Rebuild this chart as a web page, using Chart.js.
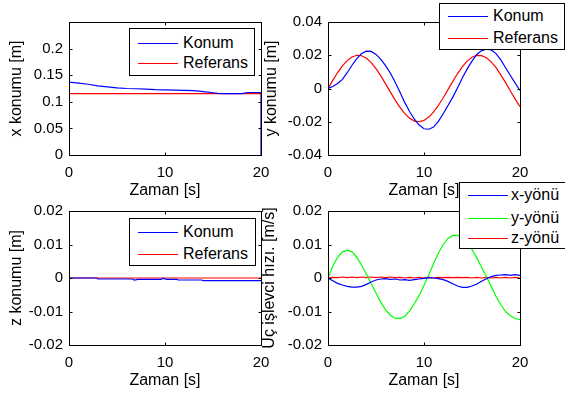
<!DOCTYPE html>
<html>
<head>
<meta charset="utf-8">
<script src="https://cdn.jsdelivr.net/npm/chart.js"></script>
<style>
body { margin: 0; background: #fff; width: 565px; height: 397px; position: relative; overflow: hidden; font-family: "Liberation Sans", Arial, sans-serif; }
canvas { position: absolute; }
.lejant { position: absolute; background: #fff; border: 1px solid #000; box-sizing: border-box; }
.lejant .cizgi { position: absolute; height: 1px; }
.lejant .yazi { position: absolute; font-size: 16px; line-height: 20px; color: #000; white-space: nowrap; }
</style>
</head>
<body>
<canvas id="c1" width="282" height="200" style="left:0;top:0"></canvas>
<canvas id="c2" width="282" height="200" style="left:259px;top:0"></canvas>
<canvas id="c3" width="282" height="201" style="left:0;top:189px"></canvas>
<canvas id="c4" width="282" height="201" style="left:259px;top:189px"></canvas>
<script>
// eksen etiketleri
var xTicks = [0, 10, 20];
var yTicks1 = [0, 0.05, 0.1, 0.15, 0.2];
var yTicks2 = [-0.04, -0.02, 0, 0.02, 0.04];
var yTicks3 = [-0.02, -0.01, 0, 0.01, 0.02];
var yTicks4 = [-0.02, -0.01, 0, 0.01, 0.02];

var konumAdlari = ['Konum', 'Referans'];
var hizAdlari = ['x-yönü', 'y-yönü', 'z-yönü'];

// x konumu
var xKonumT = [0, 1, 2, 3, 4, 5, 6, 7, 8, 9, 10, 11, 12, 13, 14, 15, 15.5, 16, 17, 18, 18.6, 19, 19.9, 20, 20];
var xKonum = [0.137, 0.135, 0.133, 0.130, 0.128, 0.126, 0.125, 0.1245, 0.124, 0.123, 0.1225, 0.122, 0.1215, 0.121, 0.119, 0.117, 0.1158, 0.1155, 0.1155, 0.1155, 0.1175, 0.1175, 0.1175, 0.1175, 0];
var xRefT = [0, 20];
var xRef = [0.1155, 0.1155];

// y konumu (0.5 s adim)
var zaman = [0, 0.5, 1, 1.5, 2, 2.5, 3, 3.5, 4, 4.5, 5, 5.5, 6, 6.5, 7, 7.5, 8, 8.5, 9, 9.5, 10,
             10.5, 11, 11.5, 12, 12.5, 13, 13.5, 14, 14.5, 15, 15.5, 16, 16.5, 17, 17.5, 18, 18.5, 19, 19.5, 20];
var yKonum = [0, 0.0012, 0.003, 0.0055, 0.0095, 0.014, 0.018, 0.021, 0.0225, 0.0223, 0.0205, 0.0175, 0.0138, 0.0092, 0.0038, -0.0022, -0.0085, -0.0138, -0.0185, -0.022, -0.0242,
              -0.0245, -0.0232, -0.0198, -0.0152, -0.0102, -0.0052, 0.0005, 0.0065, 0.0118, 0.0165, 0.0205, 0.0228, 0.0237, 0.0232, 0.021, 0.0172, 0.0125, 0.0078, 0.0032, -0.0012];
var yRef = [0, 0.0049, 0.0096, 0.0136, 0.0168, 0.019, 0.02, 0.0197, 0.0182, 0.0156, 0.012, 0.0076, 0.0028, -0.0022, -0.007, -0.0114, -0.0151, -0.0179, -0.0196, -0.02, -0.0192,
            -0.0172, -0.0141, -0.0102, -0.0056, -0.0007, 0.0043, 0.009, 0.0131, 0.0165, 0.0188, 0.0199, 0.0198, 0.0185, 0.016, 0.0125, 0.0082, 0.0035, -0.0015, -0.0064, -0.0109];

// z konumu
var zKonumT = [0, 2.9, 3.0, 6.6, 6.8, 7.2, 9.6, 9.8, 10.2, 11.2, 11.4, 13.8, 14.0, 20];
var zKonum = [0, 0, -0.0003, -0.0003, -0.0006, -0.0004, -0.0004, -0.0001, -0.0004, -0.0004, -0.0006, -0.0006, -0.0008, -0.0008];
var zRefT = [0, 20];
var zRef = [0, 0];

// uc islevci hizi
var hizX = [0, -0.0008, -0.0016, -0.0021, -0.0025, -0.0027, -0.0027, -0.0025, -0.0019, -0.0012, -0.0006, -0.0003, -0.0002, -0.0004, -0.0003, -0.0006, -0.0005, -0.0007, -0.0005, -0.0003, -0.0001,
            0.0001, 0, -0.0002, -0.0005, -0.001, -0.0017, -0.0024, -0.0028, -0.0028, -0.0024, -0.0018, -0.001, -0.0002, 0.0004, 0.0008, 0.0009, 0.001, 0.0008, 0.001, 0.0008];
var hizY = [0, 0.0035, 0.0062, 0.0078, 0.0083, 0.0078, 0.0062, 0.0038, 0.0012, -0.0017, -0.0045, -0.0072, -0.0095, -0.0111, -0.012, -0.0121, -0.0114, -0.0098, -0.0077, -0.0052, -0.0022,
            0.001, 0.0043, 0.0074, 0.01, 0.0118, 0.0127, 0.0127, 0.012, 0.0104, 0.0085, 0.006, 0.0032, 0.0004, -0.0025, -0.0055, -0.008, -0.01, -0.0113, -0.0121, -0.0124];
var hizZ = [0, 0.0002, 0.0001, 0.0003, 0.0001, 0.0003, 0.0001, 0.0003, 0.0001, 0.0003, 0.0001, 0.0003, 0.0001, 0.0003, 0.0001, 0.0002, 0, 0.0002, 0, 0.0002, 0,
            0.0002, 0, 0.0002, 0.0001, 0.0002, 0.0001, 0.0002, 0.0001, 0.0002, 0, 0.0002, 0, 0.0002, 0, 0.0002, 0, 0.0002, 0, 0.0002, 0];

var mavi = '#0000ff';
var kirmizi = '#ff0000';
var yesil = '#00ff00';

Chart.defaults.font.family = '"Liberation Sans", Arial, sans-serif';
Chart.defaults.color = '#000';

function noktalar(t, v) {
    var d = [];
    for (var i = 0; i < t.length; i++) {
        d.push({ x: t[i], y: v[i] });
    }
    return d;
}

function seri(ad, t, v, renk) {
    return { label: ad, data: noktalar(t, v), borderColor: renk, backgroundColor: renk, borderWidth: 1.2, pointRadius: 0, tension: 0, fill: false };
}

// MATLAB tarzi kutu ve iceri bakan tikler
var kutuPlugin = {
    id: 'kutu',
    afterDatasetsDraw: function (chart) {
        var ctx = chart.ctx, a = chart.chartArea;
        var xs = chart.scales.x, ys = chart.scales.y;
        var l = Math.round(a.left) + 0.5, r = Math.round(a.right) + 0.5;
        var t = Math.round(a.top) + 0.5, b = Math.round(a.bottom) + 0.5;
        ctx.save();
        ctx.strokeStyle = '#000';
        ctx.lineWidth = 1;
        ctx.strokeRect(l, t, r - l, b - t);
        ctx.beginPath();
        xs.ticks.forEach(function (tk) {
            var px = Math.round(xs.getPixelForValue(tk.value)) + 0.5;
            ctx.moveTo(px, b); ctx.lineTo(px, b - 3);
            ctx.moveTo(px, t); ctx.lineTo(px, t + 3);
        });
        ys.ticks.forEach(function (tk) {
            var py = Math.round(ys.getPixelForValue(tk.value)) + 0.5;
            ctx.moveTo(l, py); ctx.lineTo(l + 3, py);
            ctx.moveTo(r, py); ctx.lineTo(r - 3, py);
        });
        ctx.stroke();
        ctx.restore();
    }
};

function panelCiz(id, datasets, yMin, yMax, yTicks, yBaslik, baslikPad) {
    var ctx = document.getElementById(id).getContext('2d');
    return new Chart(ctx, {
        type: 'line',
        data: { datasets: datasets },
        options: {
            responsive: false,
            animation: false,
            devicePixelRatio: 1,
            layout: { padding: { top: 22, right: 21, left: 0, bottom: 0 } },
            plugins: { legend: { display: false }, tooltip: { enabled: false } },
            scales: {
                x: {
                    type: 'linear', min: 0, max: 20,
                    grid: { display: false, drawTicks: false },
                    border: { display: false },
                    afterBuildTicks: function (s) { s.ticks = xTicks.map(function (v) { return { value: v }; }); },
                    afterFit: function (s) { s.height = 45; },
                    ticks: { font: { size: 15 }, padding: 9, maxRotation: 0, autoSkip: false, callback: function (v) { return String(v); } },
                    title: { display: true, text: 'Zaman [s]', font: { size: 16 }, padding: { top: 0, bottom: 0 } }
                },
                y: {
                    type: 'linear', min: yMin, max: yMax,
                    grid: { display: false, drawTicks: false },
                    border: { display: false },
                    afterBuildTicks: function (s) { s.ticks = yTicks.map(function (v) { return { value: v }; }); },
                    afterFit: function (s) { s.width = 69; },
                    ticks: { font: { size: 15 }, padding: 6, autoSkip: false, callback: function (v) { return String(v); } },
                    title: { display: true, text: yBaslik, font: { size: 16 }, padding: { top: baslikPad, bottom: 0 } }
                }
            }
        },
        plugins: [kutuPlugin]
    });
}

panelCiz('c1', [seri(konumAdlari[0], xKonumT, xKonum, mavi), seri(konumAdlari[1], xRefT, xRef, kirmizi)],
    0, 0.25, yTicks1, 'x konumu [m]', 7);
panelCiz('c2', [seri(konumAdlari[0], zaman, yKonum, mavi), seri(konumAdlari[1], zaman, yRef, kirmizi)],
    -0.04, 0.04, yTicks2, 'y konumu [m]', 3);
panelCiz('c3', [seri(konumAdlari[0], zKonumT, zKonum, mavi), seri(konumAdlari[1], zRefT, zRef, kirmizi)],
    -0.02, 0.02, yTicks3, 'z konumu [m]', 7);
panelCiz('c4', [seri(hizAdlari[0], zaman, hizX, mavi), seri(hizAdlari[1], zaman, hizY, yesil), seri(hizAdlari[2], zaman, hizZ, kirmizi)],
    -0.02, 0.02, yTicks4, 'Uç işlevci hızı. [m/s]', 1);

// lejantlar (HTML)
function lejant(sol, ust, gen, yuk, satirlar, adlar, renkler, yaziSol) {
    var kutu = document.createElement('div');
    kutu.className = 'lejant';
    kutu.style.left = sol + 'px';
    kutu.style.top = ust + 'px';
    kutu.style.width = gen + 'px';
    kutu.style.height = yuk + 'px';
    for (var i = 0; i < adlar.length; i++) {
        var c = document.createElement('div');
        c.className = 'cizgi';
        c.style.left = '8px';
        c.style.width = '40px';
        c.style.top = (satirlar[i] - 1) + 'px';
        c.style.background = renkler[i];
        kutu.appendChild(c);
        var y = document.createElement('div');
        y.className = 'yazi';
        y.style.left = yaziSol + 'px';
        y.style.top = (satirlar[i] - 11) + 'px';
        y.textContent = adlar[i];
        kutu.appendChild(y);
    }
    document.body.appendChild(kutu);
}

lejant(129, 28, 126, 48, [15, 35], konumAdlari, [mavi, kirmizi], 53);
lejant(439, 3, 126, 47, [13, 35], konumAdlari, [mavi, kirmizi], 53);
lejant(129, 218, 127, 48, [14, 36], konumAdlari, [mavi, kirmizi], 53);
lejant(459, 182, 107, 67, [13, 36, 56], hizAdlari, [mavi, yesil, kirmizi], 51);
</script>
</body>
</html>
